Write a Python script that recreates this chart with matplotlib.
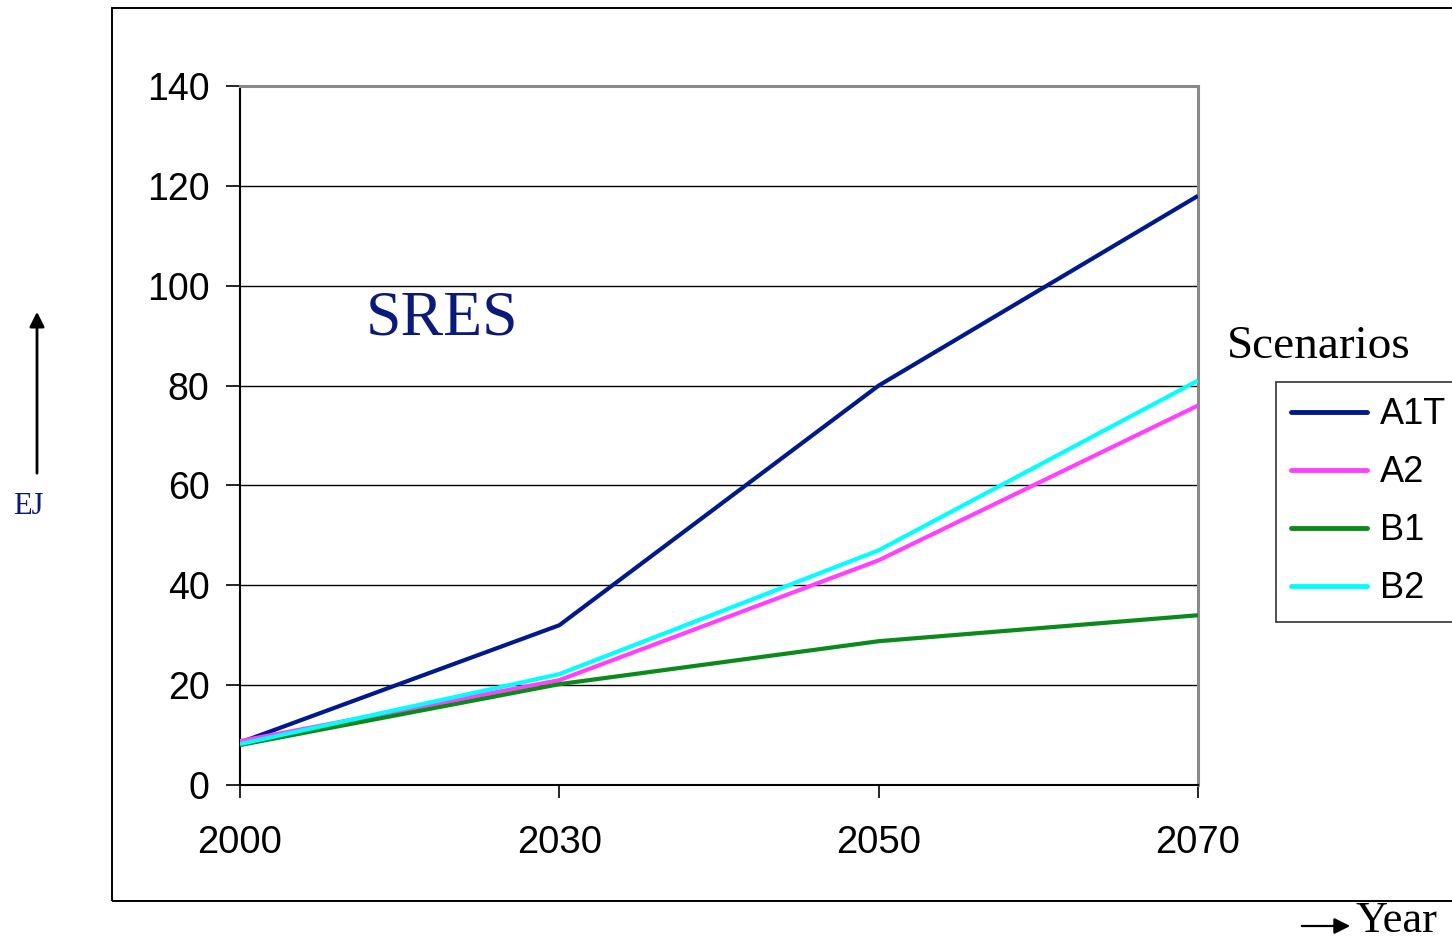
import matplotlib
matplotlib.use("Agg")
import matplotlib.pyplot as plt
import numpy as np
from matplotlib.patches import Rectangle

years = ["2000", "2030", "2050", "2070"]
scenarios = ["A1T", "A2", "B1", "B2"]
a1t = [8.5, 32, 80, 118]
a2 = [8.8, 21, 45, 76]
b1 = [8.0, 20.2, 28.8, 34]
b2 = [8.2, 22.2, 47, 81]
colors = ["#001a8c", "#ff40ff", "#0a8a1a", "#00ffff"]

W, H = 1452, 940
SANS = "Liberation Sans"
SERIF = "Liberation Serif"
NAVY = "#0a1a7a"


def fx(px):
    return px / W


def fy(py):
    return 1 - py / H


fig = plt.figure(figsize=(W / 100, H / 100), dpi=100)
fig.patch.set_facecolor("white")

# outer chart frame, runs past the right edge
fig.add_artist(Rectangle((fx(112), fy(901)), fx(1460) - fx(112), fy(8) - fy(901),
                         transform=fig.transFigure, fill=False, edgecolor="black", lw=1.4))

ax = fig.add_axes([fx(240), fy(785), fx(1198) - fx(240), fy(86) - fy(785)])
x = np.arange(len(years))
for vals, name, c in zip([a1t, a2, b1, b2], scenarios, colors):
    ax.plot(x, vals, color=c, lw=3, label=name, solid_capstyle="butt", zorder=3)

ax.set_xlim(0, len(years) - 1)
ax.set_ylim(0, 140)
ax.set_yticks(np.arange(0, 141, 20))
ax.set_xticks(x)
ax.set_xticklabels(years)
ax.grid(axis="y", color="black", lw=1.0)
ax.set_axisbelow(True)
for s in ("left", "bottom"):
    ax.spines[s].set_color("black")
    ax.spines[s].set_linewidth(1.5)
for s in ("top", "right"):
    ax.spines[s].set_color("#8a8a8a")
    ax.spines[s].set_linewidth(2.2)
ax.tick_params(axis="y", direction="out", length=10, width=1.2, pad=12,
               labelsize=27)
ax.tick_params(axis="x", direction="out", length=9, width=1.2, pad=20,
               labelsize=27.5)
for lab in ax.get_xticklabels() + ax.get_yticklabels():
    lab.set_fontfamily(SANS)

ax.text(0.1315, 90.3, "SRES", fontsize=46, family=SERIF, color=NAVY,
        ha="left", va="baseline", transform=ax.get_yaxis_transform())

leg = ax.legend(loc="upper left", bbox_to_anchor=(fx(1276), fy(382)),
                bbox_transform=fig.transFigure, frameon=True, fancybox=False,
                edgecolor="black", borderaxespad=0, borderpad=0.42,
                handlelength=2.1, handletextpad=0.35, labelspacing=0.64,
                prop={"family": SANS, "size": 26})
leg.get_frame().set_linewidth(1.2)
for ln in leg.get_lines():
    ln.set_linewidth(3.5)
    ln.set_solid_capstyle("round")

fig.text(fx(1227), fy(358), "Scenarios", fontsize=34, family=SERIF,
         color="black", ha="left", va="baseline")

# axis captions with arrows
fig.text(fx(28), fy(506), "EJ", fontsize=22, family=SERIF, color=NAVY,
         ha="center", va="center")
ax.annotate("", xy=(fx(37), fy(309)), xytext=(fx(37), fy(476)),
            xycoords="figure fraction", textcoords="figure fraction",
            arrowprops=dict(arrowstyle="-|>", color="black", lw=2,
                            mutation_scale=22))
fig.text(fx(1355), fy(932), "Year", fontsize=32, family=SERIF, color="black",
         ha="left", va="baseline")
ax.annotate("", xy=(fx(1353), fy(926)), xytext=(fx(1299), fy(926)),
            xycoords="figure fraction", textcoords="figure fraction",
            arrowprops=dict(arrowstyle="-|>", color="black", lw=1.6,
                            mutation_scale=24))

fig.savefig("out.png", dpi=100, facecolor="white")
